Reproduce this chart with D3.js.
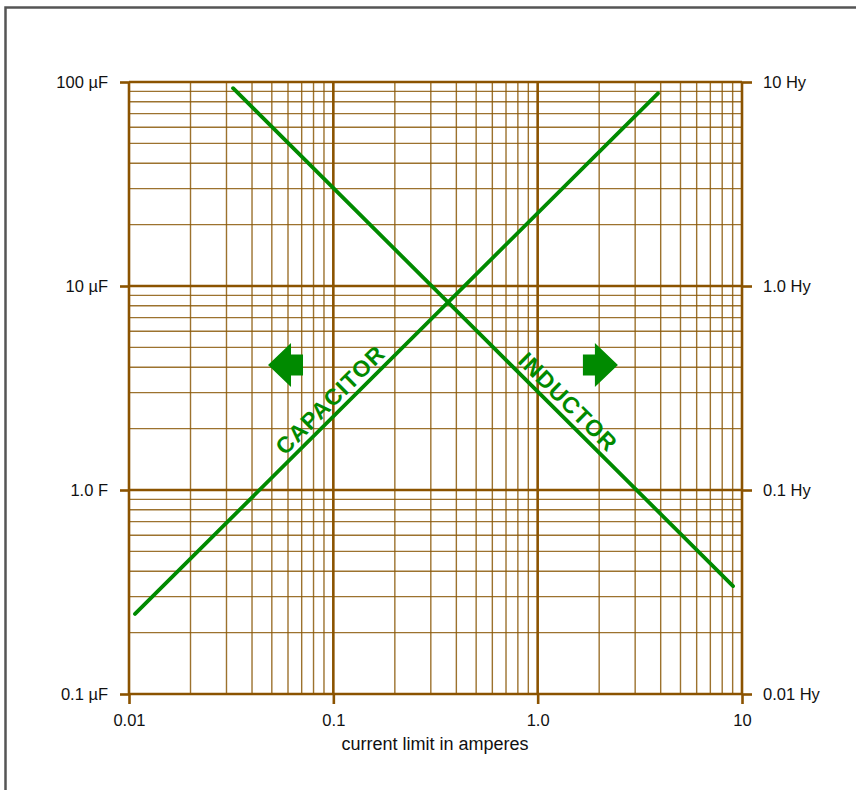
<!DOCTYPE html>
<html lang="en">
<head>
<meta charset="utf-8">
<title>current limit chart</title>
<script src="https://cdn.jsdelivr.net/npm/d3@7"></script>
<style>
body {margin: 0; background: #fff;}
svg text {font-family: "Liberation Sans", Arial, sans-serif; fill: #111;}
.grid-minor {stroke: #8b5a0a; stroke-width: 1.4; opacity: .85;}
.grid-major {stroke: #8b5300; stroke-width: 2.6;}
.axis path {display: none;}
.axis line {stroke: #8b5300; stroke-width: 2.6;}
.axis text {font-size: 16.5px;}
.curve {fill: none; stroke: #008a00; stroke-width: 3.8; stroke-linecap: round;}
.lbl {fill: #008a00 !important; font-weight: bold; font-size: 23px; letter-spacing: 1px;}
</style>
</head>
<body>
<svg width="856" height="790"></svg>
<script>
// --- data ---
var ampTicks   = [0.01, 0.1, 1, 10];
var ampLabels  = ["0.01", "0.1", "1.0", "10"];
var capTicks   = [0.1, 1, 10, 100];
var capLabels  = ["0.1 \u00b5F", "1.0 F", "10 \u00b5F", "100 \u00b5F"];
var indTicks   = [0.01, 0.1, 1, 10];
var indLabels  = ["0.01 Hy", "0.1 Hy", "1.0 Hy", "10 Hy"];

// capacitor line (amps -> microfarads)
var capAmps = [0.0107, 3.88];
var capUF   = [0.247, 88];
// inductor line (amps -> henries)
var indAmps = [0.0323, 9.04];
var indHy   = [9.33, 0.0338];

var svg = d3.select("svg");

// outer frame (top + left edge only)
svg.append("path")
	.attr("d", "M5.5,790 L5.5,7.5 L856,7.5")
	.attr("fill", "none")
	.attr("stroke", "#555")
	.attr("stroke-width", 2.5);

var x = d3.scaleLog().domain([0.01, 10]).range([129, 742]);
var yC = d3.scaleLog().domain([0.1, 100]).range([694, 82]);
var yL = d3.scaleLog().domain([0.01, 10]).range([694, 82]);

var g = svg.append("g");

// minor grid (2..9 in every decade)
var minorX = x.ticks().filter(function(d) { return ampTicks.indexOf(+d.toPrecision(3)) < 0; });
var minorY = yC.ticks().filter(function(d) { return capTicks.indexOf(+d.toPrecision(3)) < 0; });

g.selectAll("line.vx")
	.data(minorX)
	.enter().append("line")
		.attr("class", "grid-minor")
		.attr("x1", function(d) { return x(d); })
		.attr("x2", function(d) { return x(d); })
		.attr("y1", yC(100))
		.attr("y2", yC(0.1));

g.selectAll("line.hy")
	.data(minorY)
	.enter().append("line")
		.attr("class", "grid-minor")
		.attr("y1", function(d) { return yC(d); })
		.attr("y2", function(d) { return yC(d); })
		.attr("x1", x(0.01))
		.attr("x2", x(10));

// major grid
g.selectAll("line.mx")
	.data(ampTicks)
	.enter().append("line")
		.attr("class", "grid-major")
		.attr("x1", function(d) { return x(d); })
		.attr("x2", function(d) { return x(d); })
		.attr("y1", yC(100))
		.attr("y2", yC(0.1));

g.selectAll("line.my")
	.data(capTicks)
	.enter().append("line")
		.attr("class", "grid-major")
		.attr("y1", function(d) { return yC(d); })
		.attr("y2", function(d) { return yC(d); })
		.attr("x1", x(0.01))
		.attr("x2", x(10));

// axes
svg.append("g")
	.attr("class", "axis")
	.attr("transform", "translate(0," + yC(0.1) + ")")
	.call(d3.axisBottom(x).tickValues(ampTicks).tickSize(10).tickPadding(10)
		.tickFormat(function(d, i) { return ampLabels[i]; }));

svg.append("g")
	.attr("class", "axis")
	.attr("transform", "translate(" + x(0.01) + ",0)")
	.call(d3.axisLeft(yC).tickValues(capTicks).tickSize(9).tickPadding(12)
		.tickFormat(function(d, i) { return capLabels[i]; }));

svg.append("g")
	.attr("class", "axis")
	.attr("transform", "translate(" + x(10) + ",0)")
	.call(d3.axisRight(yL).tickValues(indTicks).tickSize(10).tickPadding(11)
		.tickFormat(function(d, i) { return indLabels[i]; }));

svg.append("text")
	.attr("x", 435)
	.attr("y", 750)
	.attr("text-anchor", "middle")
	.style("font-size", "18px")
	.text("current limit in amperes");

// curves
var capLine = d3.line()
	.x(function(d) { return x(d[0]); })
	.y(function(d) { return yC(d[1]); });
var indLine = d3.line()
	.x(function(d) { return x(d[0]); })
	.y(function(d) { return yL(d[1]); });

svg.append("path")
	.attr("class", "curve")
	.datum(d3.zip(capAmps, capUF))
	.attr("d", capLine);

svg.append("path")
	.attr("class", "curve")
	.datum(d3.zip(indAmps, indHy))
	.attr("d", indLine);

// labels along the lines
function along(px, py, ax, ay, bx, by, off) {
	var ang = Math.atan2(by - ay, bx - ax);
	var nx = Math.sin(ang) * off, ny = -Math.cos(ang) * off;
	return "translate(" + (px + nx) + "," + (py + ny) + ") rotate(" + (ang * 180 / Math.PI) + ")";
}

var c0 = 0.1079;
var capAt = Math.exp(d3.scaleLog().domain(capAmps).range(capUF.map(Math.log))(c0));
svg.append("text")
	.attr("class", "lbl")
	.attr("text-anchor", "middle")
	.attr("transform", along(x(c0), yC(capAt),
		x(capAmps[0]), yC(capUF[0]), x(capAmps[1]), yC(capUF[1]), 6))
	.text("CAPACITOR");

var i0 = 1.259;
var indAt = Math.exp(d3.scaleLog().domain(indAmps).range(indHy.map(Math.log))(i0));
svg.append("text")
	.attr("class", "lbl")
	.attr("text-anchor", "middle")
	.attr("transform", along(x(i0), yL(indAt),
		x(indAmps[0]), yL(indHy[0]), x(indAmps[1]), yL(indHy[1]), 6))
	.text("INDUCTOR");

// arrows
var arrow = "M0,0 L23,-22 L23,-10.5 L35,-10.5 L35,10.5 L23,10.5 L23,22 Z";
svg.append("path")
	.attr("d", arrow)
	.attr("fill", "#008a00")
	.attr("transform", "translate(" + x(0.0479) + "," + yC(4.1) + ")");
svg.append("path")
	.attr("d", arrow)
	.attr("fill", "#008a00")
	.attr("transform", "translate(" + x(2.47) + "," + yC(4.1) + ") scale(-1,1)");
</script>
</body>
</html>
